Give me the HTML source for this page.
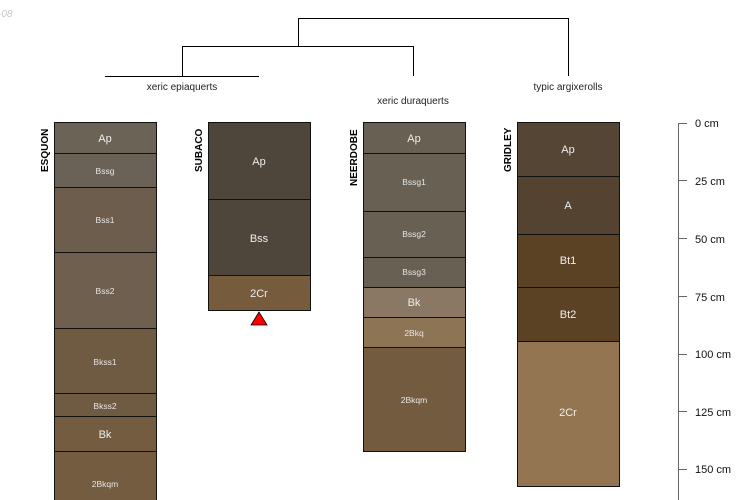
<!DOCTYPE html>
<html><head><meta charset="utf-8"><style>
html,body{margin:0;padding:0;background:#fff;}
svg{display:block;font-family:"Liberation Sans",sans-serif;}
</style></head><body>
<svg width="750" height="500" viewBox="0 0 750 500" xmlns="http://www.w3.org/2000/svg">
<text x="-2" y="17" font-size="10" font-style="italic" fill="#c8c8c8">-08</text>
<g stroke="#000" stroke-width="1" fill="none">
<path d="M298.5 46V18.5H568.5V76"/>
<path d="M182.5 76V46.5H413.5V76"/>
<path d="M105 76.5H259"/>
</g>
<g font-size="10" fill="#222" text-anchor="middle">
<text x="182" y="90">xeric epiaquerts</text>
<text x="413" y="104">xeric duraquerts</text>
<text x="568" y="90">typic argixerolls</text>
</g>
<g stroke="#111" stroke-width="1">
<!-- ESQUON -->
<rect x="54.5" y="122.5" width="102" height="31" fill="#6b6356"/>
<rect x="54.5" y="153.5" width="102" height="34" fill="#6a6157"/>
<rect x="54.5" y="187.5" width="102" height="65" fill="#6d5d4c"/>
<rect x="54.5" y="252.5" width="102" height="76" fill="#6e5f4e"/>
<rect x="54.5" y="328.5" width="102" height="65" fill="#6f5a42"/>
<rect x="54.5" y="393.5" width="102" height="23" fill="#6f5a42"/>
<rect x="54.5" y="416.5" width="102" height="35" fill="#735c40"/>
<rect x="54.5" y="451.5" width="102" height="60" fill="#735c40"/>
<!-- SUBACO -->
<rect x="208.5" y="122.5" width="102" height="77" fill="#4e453b"/>
<rect x="208.5" y="199.5" width="102" height="76" fill="#4e453b"/>
<rect x="208.5" y="275.5" width="102" height="35" fill="#765b3c"/>
<!-- NEERDOBE -->
<rect x="363.5" y="122.5" width="102" height="31" fill="#676053"/>
<rect x="363.5" y="153.5" width="102" height="58" fill="#676053"/>
<rect x="363.5" y="211.5" width="102" height="46" fill="#676053"/>
<rect x="363.5" y="257.5" width="102" height="30" fill="#676053"/>
<rect x="363.5" y="287.5" width="102" height="30" fill="#8a7865"/>
<rect x="363.5" y="317.5" width="102" height="30" fill="#8d7455"/>
<rect x="363.5" y="347.5" width="102" height="104" fill="#735b3f"/>
<!-- GRIDLEY -->
<rect x="517.5" y="122.5" width="102" height="54" fill="#544534"/>
<rect x="517.5" y="176.5" width="102" height="58" fill="#544330"/>
<rect x="517.5" y="234.5" width="102" height="53" fill="#5b4224"/>
<rect x="517.5" y="287.5" width="102" height="54" fill="#5b4224"/>
<rect x="517.5" y="341.5" width="102" height="145" fill="#937651"/>
</g>
<polygon points="259,312 251,325 267,325" fill="#f00" stroke="#000" stroke-width="0.8"/>
<g fill="#eee" text-anchor="middle">
<g font-size="11">
<text x="105" y="142">Ap</text><text x="105" y="438">Bk</text>
<text x="259" y="165">Ap</text><text x="259" y="242">Bss</text><text x="259" y="297">2Cr</text>
<text x="414" y="142">Ap</text><text x="414" y="306">Bk</text>
<text x="568" y="153">Ap</text><text x="568" y="209">A</text><text x="568" y="264">Bt1</text><text x="568" y="318">Bt2</text><text x="568" y="416">2Cr</text>
</g>
<g font-size="8.5" fill="#e6e6e6">
<text x="105" y="174">Bssg</text><text x="105" y="223">Bss1</text><text x="105" y="294">Bss2</text>
<text x="105" y="365">Bkss1</text><text x="105" y="409">Bkss2</text><text x="105" y="487">2Bkqm</text>
<text x="414" y="185">Bssg1</text><text x="414" y="237">Bssg2</text><text x="414" y="275">Bssg3</text>
<text x="414" y="336">2Bkq</text><text x="414" y="403">2Bkqm</text>
</g>
</g>
<g font-size="10" font-weight="bold" fill="#000">
<text transform="translate(48,172) rotate(-90)">ESQUON</text>
<text transform="translate(202,172) rotate(-90)">SUBACO</text>
<text transform="translate(357,186) rotate(-90)">NEERDOBE</text>
<text transform="translate(511,172) rotate(-90)">GRIDLEY</text>
</g>
<g stroke="#666" stroke-width="1">
<path d="M678.5 123V500"/>
<path d="M678 123.5H687M678 180.5H687M678 238.5H687M678 296.5H687M678 354.5H687M678 411.5H687M678 469.5H687"/>
</g>
<g font-size="11" fill="#111">
<text x="695" y="127">0 cm</text>
<text x="695" y="185">25 cm</text>
<text x="695" y="243">50 cm</text>
<text x="695" y="301">75 cm</text>
<text x="695" y="358">100 cm</text>
<text x="695" y="416">125 cm</text>
<text x="695" y="473">150 cm</text>
</g>
</svg>
</body></html>
